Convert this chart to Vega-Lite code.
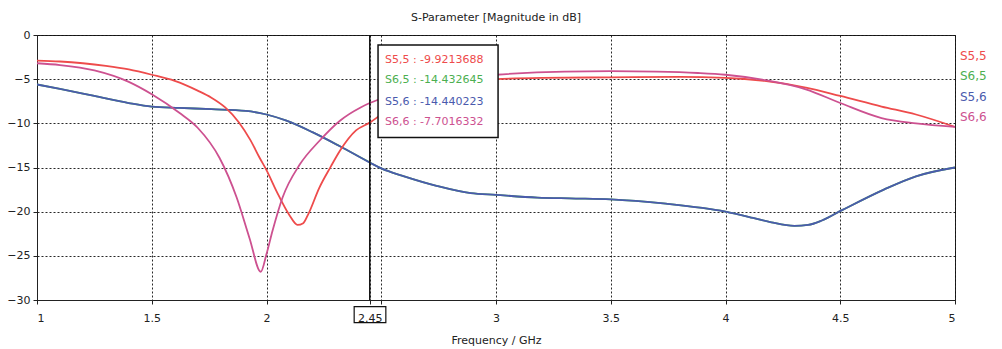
{
  "$schema": "https://vega.github.io/schema/vega-lite/v6.json",
  "width": 918,
  "height": 265,
  "autosize": "none",
  "padding": {"left": 37, "top": 35, "right": 47, "bottom": 49},
  "background": "white",
  "config": {
    "font": "DejaVu Sans",
    "view": {"stroke": "#222", "strokeWidth": 1},
    "axis": {
      "labelFont": "DejaVu Sans",
      "labelFontSize": 11,
      "labelColor": "#222",
      "titleFont": "DejaVu Sans",
      "titleFontSize": 11,
      "titleFontWeight": "normal",
      "titleColor": "#222",
      "domainColor": "#222",
      "tickColor": "#222",
      "gridColor": "#111",
      "gridDash": [2, 2],
      "gridOpacity": 0.9,
      "gridWidth": 1
    }
  },
  "title": {"text": "S-Parameter [Magnitude in dB]", "font": "DejaVu Sans", "fontSize": 11, "fontWeight": "normal", "color": "#222", "offset": 6},
  "data": {"values": [
    {"s":"S6,5","f":1.0,"db":-5.6},{"s":"S6,5","f":1.1,"db":-6.1},{"s":"S6,5","f":1.25,"db":-6.9},{"s":"S6,5","f":1.4,"db":-7.7},{"s":"S6,5","f":1.5,"db":-8.1},{"s":"S6,5","f":1.62,"db":-8.25},{"s":"S6,5","f":1.76,"db":-8.4},{"s":"S6,5","f":1.91,"db":-8.6},{"s":"S6,5","f":2.0,"db":-9.0},{"s":"S6,5","f":2.087,"db":-9.7},{"s":"S6,5","f":2.2,"db":-11.0},{"s":"S6,5","f":2.32,"db":-12.6},{"s":"S6,5","f":2.45,"db":-14.43},{"s":"S6,5","f":2.5,"db":-15.1},{"s":"S6,5","f":2.6,"db":-16.0},{"s":"S6,5","f":2.745,"db":-17.1},{"s":"S6,5","f":2.89,"db":-17.9},{"s":"S6,5","f":3.0,"db":-18.1},{"s":"S6,5","f":3.18,"db":-18.4},{"s":"S6,5","f":3.32,"db":-18.5},{"s":"S6,5","f":3.5,"db":-18.6},{"s":"S6,5","f":3.74,"db":-19.1},{"s":"S6,5","f":4.0,"db":-20.0},{"s":"S6,5","f":4.12,"db":-20.7},{"s":"S6,5","f":4.2,"db":-21.2},{"s":"S6,5","f":4.3,"db":-21.6},{"s":"S6,5","f":4.36,"db":-21.5},{"s":"S6,5","f":4.42,"db":-21.0},{"s":"S6,5","f":4.51,"db":-19.8},{"s":"S6,5","f":4.69,"db":-17.5},{"s":"S6,5","f":4.83,"db":-16.0},{"s":"S6,5","f":5.0,"db":-15.0},
    {"s":"S5,6","f":1.0,"db":-5.6},{"s":"S5,6","f":1.1,"db":-6.1},{"s":"S5,6","f":1.25,"db":-6.9},{"s":"S5,6","f":1.4,"db":-7.7},{"s":"S5,6","f":1.5,"db":-8.1},{"s":"S5,6","f":1.62,"db":-8.25},{"s":"S5,6","f":1.76,"db":-8.4},{"s":"S5,6","f":1.91,"db":-8.6},{"s":"S5,6","f":2.0,"db":-9.0},{"s":"S5,6","f":2.087,"db":-9.7},{"s":"S5,6","f":2.2,"db":-11.0},{"s":"S5,6","f":2.32,"db":-12.6},{"s":"S5,6","f":2.45,"db":-14.44},{"s":"S5,6","f":2.5,"db":-15.1},{"s":"S5,6","f":2.6,"db":-16.0},{"s":"S5,6","f":2.745,"db":-17.1},{"s":"S5,6","f":2.89,"db":-17.9},{"s":"S5,6","f":3.0,"db":-18.1},{"s":"S5,6","f":3.18,"db":-18.4},{"s":"S5,6","f":3.32,"db":-18.5},{"s":"S5,6","f":3.5,"db":-18.6},{"s":"S5,6","f":3.74,"db":-19.1},{"s":"S5,6","f":4.0,"db":-20.0},{"s":"S5,6","f":4.12,"db":-20.7},{"s":"S5,6","f":4.2,"db":-21.2},{"s":"S5,6","f":4.3,"db":-21.6},{"s":"S5,6","f":4.36,"db":-21.5},{"s":"S5,6","f":4.42,"db":-21.0},{"s":"S5,6","f":4.51,"db":-19.8},{"s":"S5,6","f":4.69,"db":-17.5},{"s":"S5,6","f":4.83,"db":-16.0},{"s":"S5,6","f":5.0,"db":-15.0},
    {"s":"S5,5","f":1.0,"db":-2.9},{"s":"S5,5","f":1.1,"db":-3.0},{"s":"S5,5","f":1.2,"db":-3.2},{"s":"S5,5","f":1.3,"db":-3.5},{"s":"S5,5","f":1.4,"db":-3.9},{"s":"S5,5","f":1.5,"db":-4.5},{"s":"S5,5","f":1.6,"db":-5.2},{"s":"S5,5","f":1.7,"db":-6.3},{"s":"S5,5","f":1.76,"db":-7.1},{"s":"S5,5","f":1.82,"db":-8.2},{"s":"S5,5","f":1.88,"db":-9.9},{"s":"S5,5","f":1.93,"db":-11.9},{"s":"S5,5","f":1.97,"db":-13.9},{"s":"S5,5","f":2.0,"db":-15.3},{"s":"S5,5","f":2.044,"db":-17.7},{"s":"S5,5","f":2.1,"db":-20.4},{"s":"S5,5","f":2.135,"db":-21.5},{"s":"S5,5","f":2.16,"db":-21.3},{"s":"S5,5","f":2.18,"db":-20.4},{"s":"S5,5","f":2.23,"db":-17.3},{"s":"S5,5","f":2.28,"db":-14.9},{"s":"S5,5","f":2.32,"db":-13.1},{"s":"S5,5","f":2.39,"db":-10.8},{"s":"S5,5","f":2.45,"db":-9.92},{"s":"S5,5","f":2.5,"db":-9.0},{"s":"S5,5","f":2.6,"db":-7.4},{"s":"S5,5","f":2.7,"db":-6.3},{"s":"S5,5","f":2.8,"db":-5.6},{"s":"S5,5","f":2.9,"db":-5.2},{"s":"S5,5","f":3.0,"db":-5.0},{"s":"S5,5","f":3.2,"db":-4.85},{"s":"S5,5","f":3.5,"db":-4.8},{"s":"S5,5","f":3.8,"db":-4.75},{"s":"S5,5","f":4.0,"db":-4.85},{"s":"S5,5","f":4.17,"db":-5.2},{"s":"S5,5","f":4.35,"db":-5.95},{"s":"S5,5","f":4.5,"db":-6.9},{"s":"S5,5","f":4.68,"db":-8.1},{"s":"S5,5","f":4.83,"db":-9.0},{"s":"S5,5","f":5.0,"db":-10.4},
    {"s":"S6,6","f":1.0,"db":-3.2},{"s":"S6,6","f":1.1,"db":-3.4},{"s":"S6,6","f":1.25,"db":-4.0},{"s":"S6,6","f":1.4,"db":-5.3},{"s":"S6,6","f":1.5,"db":-6.7},{"s":"S6,6","f":1.62,"db":-8.8},{"s":"S6,6","f":1.7,"db":-10.5},{"s":"S6,6","f":1.795,"db":-13.9},{"s":"S6,6","f":1.87,"db":-18.4},{"s":"S6,6","f":1.926,"db":-23.0},{"s":"S6,6","f":1.975,"db":-26.8},{"s":"S6,6","f":2.0,"db":-24.8},{"s":"S6,6","f":2.026,"db":-22.2},{"s":"S6,6","f":2.07,"db":-18.4},{"s":"S6,6","f":2.144,"db":-14.7},{"s":"S6,6","f":2.23,"db":-12.0},{"s":"S6,6","f":2.32,"db":-9.7},{"s":"S6,6","f":2.41,"db":-8.2},{"s":"S6,6","f":2.45,"db":-7.7},{"s":"S6,6","f":2.5,"db":-7.2},{"s":"S6,6","f":2.6,"db":-6.0},{"s":"S6,6","f":2.7,"db":-5.3},{"s":"S6,6","f":2.8,"db":-4.9},{"s":"S6,6","f":2.9,"db":-4.7},{"s":"S6,6","f":3.0,"db":-4.5},{"s":"S6,6","f":3.3,"db":-4.15},{"s":"S6,6","f":3.5,"db":-4.1},{"s":"S6,6","f":3.7,"db":-4.15},{"s":"S6,6","f":3.88,"db":-4.3},{"s":"S6,6","f":4.0,"db":-4.5},{"s":"S6,6","f":4.17,"db":-5.1},{"s":"S6,6","f":4.35,"db":-6.15},{"s":"S6,6","f":4.5,"db":-7.7},{"s":"S6,6","f":4.68,"db":-9.4},{"s":"S6,6","f":4.83,"db":-10.0},{"s":"S6,6","f":5.0,"db":-10.4}
  ]},
  "layer": [
    {
      "mark": {"type": "line", "strokeWidth": 1.8, "clip": true, "interpolate": "monotone"},
      "encoding": {
        "x": {"field": "f", "type": "quantitative", "scale": {"domain": [1, 5], "nice": false},
              "axis": {"values": [1, 1.5, 2, 2.45, 2.5, 3, 3.5, 4, 4.5, 5], "labelExpr": "datum.value == 2.5 ? '' : '' + datum.value", "title": "Frequency / GHz", "tickSize": 4, "labelPadding": 8, "titlePadding": 11, "grid": true}},
        "y": {"field": "db", "type": "quantitative", "scale": {"domain": [-30, 0], "nice": false},
              "axis": {"values": [-30, -25, -20, -15, -10, -5, 0], "title": null, "tickSize": 4, "labelPadding": 3, "grid": true}},
        "color": {"field": "s", "type": "nominal",
                  "scale": {"domain": ["S5,5", "S6,5", "S5,6", "S6,6"], "range": ["#ee4b4b", "#4caf50", "#4a5aad", "#cd5190"]},
                  "legend": {"title": null, "orient": "none", "legendX": 911, "legendY": 15, "symbolSize": 0, "symbolStrokeWidth": 0, "symbolOpacity": 0, "labelOffset": 0, "labelFont": "DejaVu Sans", "labelFontSize": 12, "rowPadding": 8.3, "padding": 0,
                             "encode": {"labels": {"update": {"fill": {"scale": "color", "field": "value"}}}}}},
        "detail": {"field": "s"}
      }
    },
    {
      "data": {"values": [{}]},
      "mark": {"type": "rule", "color": "#111", "strokeWidth": 1.5},
      "encoding": {"x": {"datum": 2.45}}
    },
    {
      "data": {"values": [{}]},
      "mark": {"type": "rect", "fill": "white", "stroke": "#111", "strokeWidth": 1.5},
      "encoding": {"x": {"datum": 2.486}, "x2": {"datum": 3.009}, "y": {"datum": -1.14}, "y2": {"datum": -11.6}}
    },
    {
      "data": {"values": [{}]},
      "mark": {"type": "text", "align": "left", "baseline": "middle", "font": "DejaVu Sans", "fontSize": 11, "color": "#ee4b4b"},
      "encoding": {"x": {"datum": 2.516}, "y": {"datum": -2.85}, "text": {"value": "S5,5 : -9.9213688"}}
    },
    {
      "data": {"values": [{}]},
      "mark": {"type": "text", "align": "left", "baseline": "middle", "font": "DejaVu Sans", "fontSize": 11, "color": "#4caf50"},
      "encoding": {"x": {"datum": 2.516}, "y": {"datum": -5.13}, "text": {"value": "S6,5 : -14.432645"}}
    },
    {
      "data": {"values": [{}]},
      "mark": {"type": "text", "align": "left", "baseline": "middle", "font": "DejaVu Sans", "fontSize": 11, "color": "#4a5aad"},
      "encoding": {"x": {"datum": 2.516}, "y": {"datum": -7.53}, "text": {"value": "S5,6 : -14.440223"}}
    },
    {
      "data": {"values": [{}]},
      "mark": {"type": "text", "align": "left", "baseline": "middle", "font": "DejaVu Sans", "fontSize": 11, "color": "#cd5190"},
      "encoding": {"x": {"datum": 2.516}, "y": {"datum": -9.8}, "text": {"value": "S6,6 : -7.7016332"}}
    },
    {
      "data": {"values": [{}]},
      "mark": {"type": "rect", "fill": null, "fillOpacity": 0, "stroke": "#111", "strokeWidth": 1.2},
      "encoding": {"x": {"datum": 2.382}, "x2": {"datum": 2.52}, "y": {"datum": -30.75}, "y2": {"datum": -32.55}}
    }
  ]
}
